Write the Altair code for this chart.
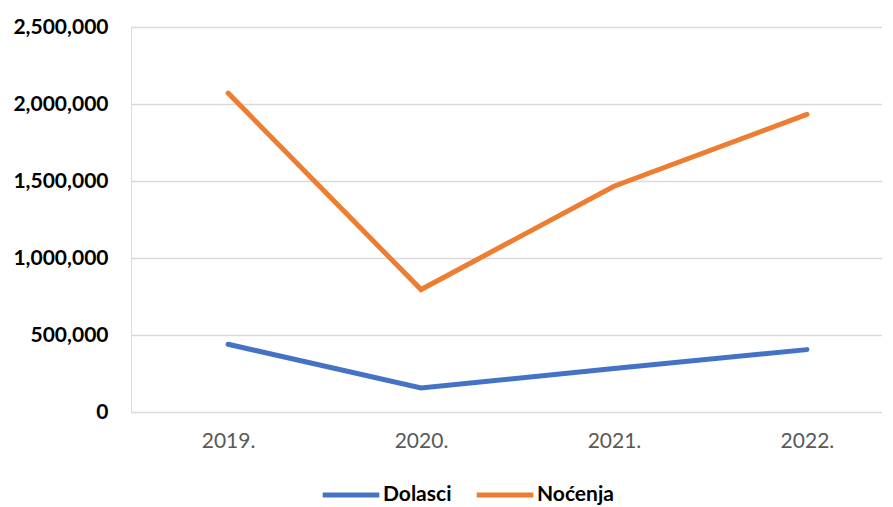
import altair as alt
import pandas as pd

years = ["2019.", "2020.", "2021.", "2022."]
series_names = ["Dolasci", "Noćenja"]
dolasci = [440000, 156000, 282000, 405000]
nocenja = [2071000, 795000, 1466000, 1933000]
y_ticks = [0, 500000, 1000000, 1500000, 2000000, 2500000]
colors = ["#4472C4", "#ED7D31"]

rows = []
for name, vals in zip(series_names, [dolasci, nocenja]):
    for yr, v in zip(years, vals):
        rows.append({"Godina": yr, "Serija": name, "Vrijednost": v})
df = pd.DataFrame(rows)

chart = alt.Chart(df).mark_line(strokeWidth=5, strokeCap="round", strokeJoin="miter").encode(
    x=alt.X("Godina:N", sort=years,
            scale=alt.Scale(type="point", padding=0.446, align=0.564),
            axis=alt.Axis(title=None, labelAngle=0, domain=False, ticks=False, grid=False,
                          labelFont="Lato", labelFontSize=21, labelColor="#595959",
                          labelPadding=18)),
    y=alt.Y("Vrijednost:Q",
            scale=alt.Scale(domain=[0, 2500000], nice=False),
            axis=alt.Axis(title=None, values=y_ticks, format=",.0f", domain=False, ticks=False,
                          labelFont="Lato", labelFontSize=21, labelFontWeight="bold",
                          labelColor="#000000", labelPadding=23,
                          minExtent=123, maxExtent=123,
                          gridColor="#d9d9d9", gridWidth=1.3)),
    color=alt.Color("Serija:N", sort=series_names,
                    scale=alt.Scale(domain=series_names, range=colors),
                    legend=alt.Legend(title=None, orient="none", direction="horizontal",
                                      legendX=189, legendY=437,
                                      symbolType="stroke", symbolStrokeWidth=5, symbolSize=3200,
                                      labelFont="Lato", labelFontSize=21, labelFontWeight="bold",
                                      labelColor="#000000", columnPadding=14, labelOffset=1)),
).properties(
    width=751, height=385,
    padding={"left": 0, "top": 8, "right": 0, "bottom": 0},
).configure_view(stroke=None).configure(background="white")

chart.save("out.html", embed_options={"renderer": "svg", "actions": False})
